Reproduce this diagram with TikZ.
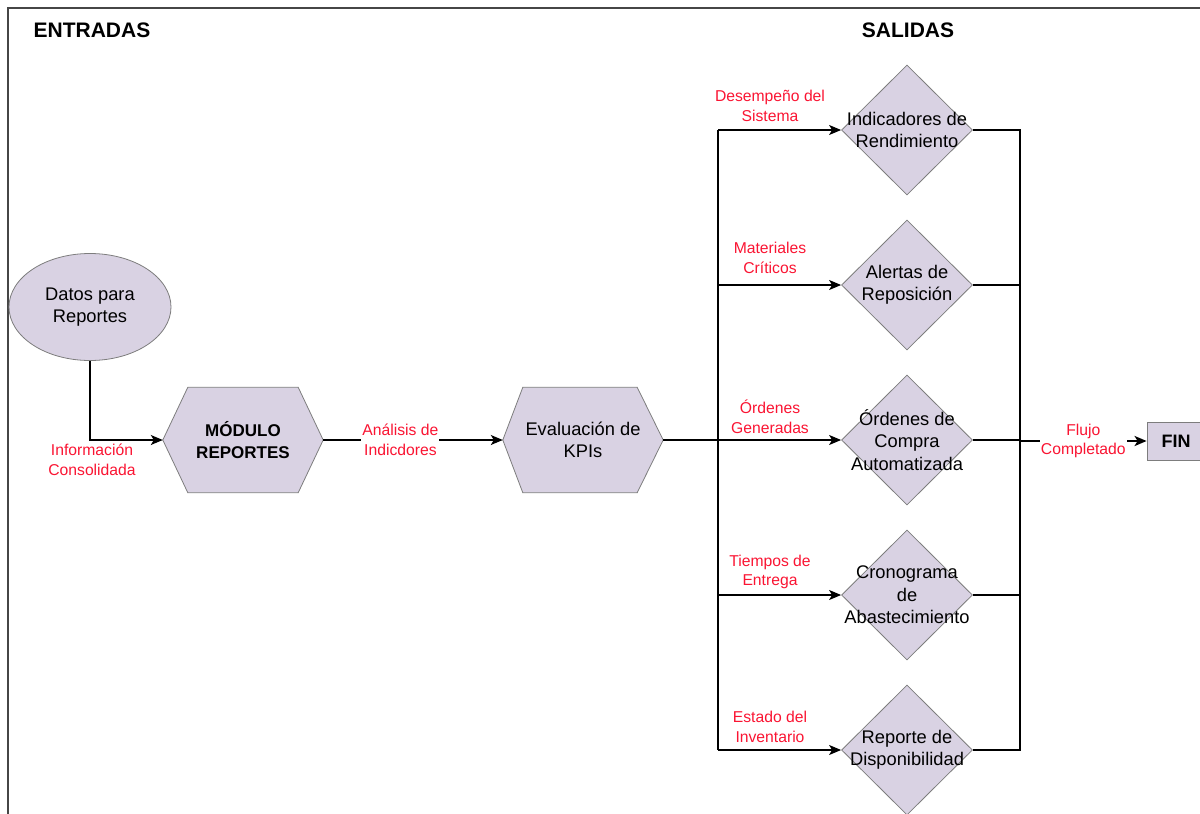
\documentclass[tikz,border=0pt]{standalone}
\usepackage{fontspec}
\setmainfont{Liberation Sans}
\usetikzlibrary{shapes.geometric,arrows.meta}
\definecolor{shapefill}{RGB}{217,210,227}
\definecolor{shapeline}{RGB}{125,125,125}
\definecolor{lblred}{RGB}{250,20,50}
\definecolor{framegray}{RGB}{70,70,70}

\begin{document}
\begin{tikzpicture}[x=1pt,y=-1pt,
  conn/.style={draw=black,line width=1.3pt},
  arr/.style={conn,-{Stealth[length=12pt,width=10pt,inset=3pt]}},
  dia/.style={diamond,draw=shapeline,fill=shapefill,line width=0.8pt,
    minimum width=131pt,minimum height=130pt,inner sep=0pt},
  hexbox/.style={rectangle,minimum width=160pt,minimum height=105pt,inner sep=0pt},
  hexshape/.style={draw=shapeline,fill=shapefill,line width=0.8pt},
  body/.style={align=center,inner sep=0pt,font=\fontsize{18.3}{22.5}\selectfont},
  bodybold/.style={align=center,inner sep=0pt,font=\bfseries\fontsize{17}{22}\selectfont},
  lbl/.style={align=center,text=lblred,inner sep=1pt,font=\fontsize{15.7}{19.5}\selectfont},
  head/.style={inner sep=0pt,font=\bfseries\fontsize{21}{25}\selectfont}]

\useasboundingbox (0,0) rectangle (1200,814);
\clip (0,0) rectangle (1200,814);

% frame
\draw[framegray,line width=1.5pt] (8,814) -- (8,8) -- (1200,8);

% headings
\node[head] (hin) at (92,30) {ENTRADAS};
\node[head] (hout) at (908,30) {SALIDAS};

% input
\node[ellipse,draw=shapeline,fill=shapefill,line width=0.8pt,
  minimum width=162pt,minimum height=107pt,inner sep=0pt] (dat) at (90,307) {};
\node[body] (dattxt) at (dat) {Datos para\\Reportes};

% module hexagon
\node[hexbox] (mod) at (243,440) {};
\draw[hexshape] (mod.west) -- ([xshift=25pt]mod.north west) -- ([xshift=-25pt]mod.north east)
  -- (mod.east) -- ([xshift=-25pt]mod.south east) -- ([xshift=25pt]mod.south west) -- cycle;
\node[bodybold] (modtxt) at (mod) {MÓDULO\\REPORTES};

% KPI hexagon
\node[hexbox] (kpi) at (583,440) {};
\draw[hexshape] (kpi.west) -- ([xshift=20pt]kpi.north west) -- ([xshift=-26pt]kpi.north east)
  -- (kpi.east) -- ([xshift=-26pt]kpi.south east) -- ([xshift=20pt]kpi.south west) -- cycle;
\node[body] (kpitxt) at (kpi) {Evaluación de\\KPIs};

% outputs
\node[dia] (d1) at (907,130) {};
\node[body] (t1) at (d1) {Indicadores de\\Rendimiento};
\node[dia] (d2) at (907,285) {};
\node[body] (t2) at (d2) {Alertas de\\Reposición};
\node[dia] (d3) at (907,440) {};
\node[body] (t3) at (d3) {Órdenes de\\Compra\\Automatizada};
\node[dia] (d4) at (907,595) {};
\node[body] (t4) at (d4) {Cronograma\\de\\Abastecimiento};
\node[dia] (d5) at (907,750) {};
\node[body] (t5) at (d5) {Reporte de\\Disponibilidad};

% end box
\node[rectangle,draw=shapeline,fill=shapefill,line width=0.8pt,
  minimum width=58pt,minimum height=38pt,inner sep=0pt,
  font=\bfseries\fontsize{18}{22}\selectfont] (fin) at (1176,441) {FIN};

% bus coordinates
\coordinate (lb1) at (718,130);
\coordinate (lb2) at (718,285);
\coordinate (lb4) at (718,595);
\coordinate (lb5) at (718,750);
\coordinate (rb1) at (1020,130);
\coordinate (rb2) at (1020,285);
\coordinate (rb3) at (1020,441);
\coordinate (rb4) at (1020,595);
\coordinate (rb5) at (1020,750);

% connectors
\draw[arr] (dat.south) |- (mod.west);
\node[lbl] (linfo) at (92,460) {Información\\Consolidada};

\draw[arr] (mod.east) -- (kpi.west)
  node[lbl,fill=white,pos=0.43] (lana) {Análisis de\\Indicdores};

\draw[arr] (kpi.east) -- (d3.west);
\draw[conn] (lb1) -- (lb5);
\draw[arr] (lb1) -- (d1.west);
\draw[arr] (lb2) -- (d2.west);
\draw[arr] (lb4) -- (d4.west);
\draw[arr] (lb5) -- (d5.west);

\node[lbl] (l1) at (770,106) {Desempeño del\\Sistema};
\node[lbl] (l2) at (770,258) {Materiales\\Críticos};
\node[lbl] (l3) at (770,417) {Órdenes\\Generadas};
\node[lbl] (l4) at (770,572) {Tiempos de\\Entrega};
\node[lbl] (l5) at (770,727) {Estado del\\Inventario};

\draw[conn] (d1.east) -- (rb1) -- (rb5) -- (d5.east);
\draw[conn] (d2.east) -- (rb2);
\draw[conn] (d3.east) -- (d3.east -| rb3);
\draw[conn] (d4.east) -- (rb4);

\draw[conn,line width=2.4pt,-{Stealth[length=12pt,width=10pt,inset=3pt]}] (rb3) -- (fin.west)
  node[lbl,fill=white,pos=0.5] (lflow) {Flujo\\Completado};

\end{tikzpicture}
\end{document}
